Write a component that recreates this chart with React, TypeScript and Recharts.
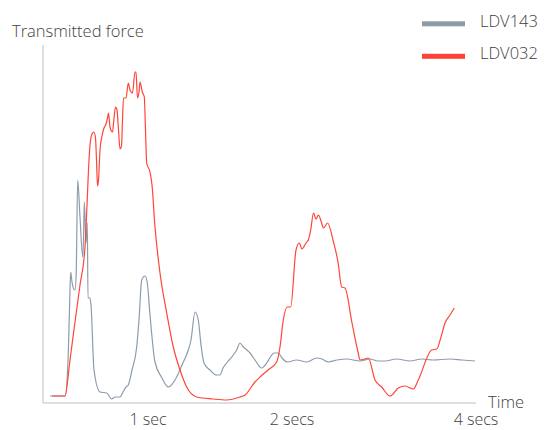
import React from 'react';
import { LineChart, Line, XAxis, YAxis, Legend, Label } from 'recharts';

// Time axis position (arbitrary time units along the axis) and transmitted force (0..358)
const LDV143_TIME = [7, 22, 25.3, 27, 27.7, 29, 30.3, 32, 33.2, 34.7, 37, 39.7, 40.5, 41.3, 43, 44.3, 45, 47, 48, 51, 57, 63.7, 68.7, 72, 77, 80, 83, 85.3, 89, 93.7, 96, 98.7, 102, 104.3, 107, 112, 119, 125.3, 133.7, 139, 145.3, 148, 152, 155.3, 158, 161, 167, 173.7, 177, 180, 183.7, 190.3, 193.7, 197, 200.3, 204, 207, 212, 218.7, 223.7, 228, 231, 235.3, 239, 244.3, 253.7, 263.7, 273.7, 279, 285.3, 294, 303.7, 317, 327, 335, 342, 353.7, 367, 378.7, 390.3, 407, 419, 432];
const LDV143_FORCE = [7, 7, 50, 113, 131, 121, 115, 113, 130, 223, 186, 146, 163, 201, 160, 180, 105, 105, 98, 33, 11, 10, 4, 6, 6, 11, 16, 18, 33, 56, 83, 123, 127, 120, 88, 41, 25, 16, 26, 38, 53, 63, 91, 83, 58, 40, 33, 28, 28, 35, 40, 48, 53, 60, 56, 53, 50, 43, 35, 40, 47, 50, 50, 45, 41, 43, 41, 45, 44, 41, 43, 44, 42, 44, 42, 42, 44, 42, 44, 43, 44, 43, 42];

const LDV032_TIME = [9, 22, 27, 32, 37, 42, 44, 45.5, 47, 49, 51, 52.5, 53.5, 54.5, 55.5, 57, 59, 61, 63, 64.5, 65.5, 67, 69.5, 71, 72.5, 74, 75.5, 77, 78.5, 79.5, 80.5, 83, 85.3, 87, 89.5, 92, 93, 94.5, 96, 97, 99.3, 101.3, 102.5, 103.7, 107, 109, 112, 117, 123.7, 130.3, 137, 143.7, 153.7, 170, 183.7, 197, 202, 212, 217, 225, 233.7, 237, 240.3, 244.3, 247.7, 253, 256.3, 259, 263, 265.3, 267.7, 270.5, 273, 275.5, 278, 280.5, 284.5, 290.5, 295, 298.7, 302, 309, 315, 317, 322, 325.3, 332, 338.7, 347, 355.3, 362, 370.3, 375.3, 388.7, 393.7, 398, 402, 407, 411.3];
const LDV032_FORCE = [7, 7, 43, 81, 118, 156, 198, 233, 258, 269, 271, 265, 243, 217, 223, 253, 267, 275, 279, 285, 290, 276, 271, 285, 296, 293, 273, 254, 257, 283, 305, 305, 320, 313, 310, 331, 331, 305, 311, 321, 311, 306, 273, 240, 231, 218, 176, 130, 90, 56, 33, 16, 6, 4, 3, 6, 8, 21, 26, 33, 41, 56, 83, 96, 96, 153, 160, 154, 160, 163, 173, 190, 184, 188, 182, 175, 180, 161, 141, 116, 115, 80, 51, 43, 44, 45, 23, 16, 7, 15, 17, 14, 23, 53, 54, 66, 80, 88, 95];

const TICK_POSITIONS = [105, 249, 433];
const TICK_LABELS = ['1 sec', '2 secs', '4 secs'];

const SERIES_NAMES = ['LDV143', 'LDV032'];
const SERIES_COLORS = ['#8d9cab', '#ff4538'];
const LEGEND_COLORS = ['#8c9ba8', '#ff4136'];

const ldv143 = LDV143_TIME.map((t, i) => ({ t, force: LDV143_FORCE[i] }));
const ldv032 = LDV032_TIME.map((t, i) => ({ t, force: LDV032_FORCE[i] }));

const FONT = '"Open Sans", sans-serif';
const WEIGHT = 300;
const SIZE = 16.5;
const TICK_SIZE = 16;
const TEXT = '#3f3f3f';

const LegendContent = () => {
  return (
    <svg width={126} height={70} style={{ display: 'block' }}>
      {SERIES_NAMES.map((name, i) => (
        <g key={name}>
          <rect x={0} y={21.3 + i * 32.5} width={43} height={5} fill={LEGEND_COLORS[i]} />
          <text x={58} y={26.8 + i * 32.5} fontSize={SIZE} fontWeight={WEIGHT} fontFamily={FONT} fill={TEXT}>
            {name}
          </text>
        </g>
      ))}
    </svg>
  );
};

export default function App() {
  return (
    <div style={{ position: 'absolute', left: 0, top: 0 }}>
      <LineChart width={548} height={430} margin={{ top: 45, right: 72, bottom: 26, left: 42 }}>
        <XAxis
          type="number"
          dataKey="t"
          domain={[0, 433]}
          ticks={TICK_POSITIONS}
          interval={0}
          tickFormatter={(v: number) => TICK_LABELS[TICK_POSITIONS.indexOf(v)] ?? ''}
          height={1}
          tickLine={false}
          tickSize={0}
          tickMargin={11}
          axisLine={{ stroke: '#d4d4d4', strokeWidth: 1.5 }}
          tick={{ fill: TEXT, fontSize: TICK_SIZE, fontWeight: WEIGHT, fontFamily: FONT }}
          allowDataOverflow
        >
          <Label
            content={(p: any) => {
              const vb = p.viewBox || {};
              return (
                <text x={vb.x + vb.width + 12} y={vb.y + 5} fontSize={SIZE} fontWeight={WEIGHT} fontFamily={FONT} fill={TEXT}>
                  Time
                </text>
              );
            }}
          />
        </XAxis>
        <YAxis
          type="number"
          domain={[0, 358]}
          width={1}
          tick={false}
          tickLine={false}
          axisLine={{ stroke: '#d4d4d4', strokeWidth: 1.5 }}
          allowDataOverflow
        >
          <Label
            content={(p: any) => {
              const vb = p.viewBox || {};
              return (
                <text x={vb.x + vb.width - 31} y={vb.y - 8} fontSize={SIZE} fontWeight={WEIGHT} fontFamily={FONT} fill={TEXT}>
                  Transmitted force
                </text>
              );
            }}
          />
        </YAxis>
        <Legend
          layout="vertical"
          align="center"
          verticalAlign="middle"
          wrapperStyle={{ position: 'absolute', left: 422, top: 0, width: 126, height: 70 }}
          content={<LegendContent />}
        />
        <Line
          data={ldv143}
          dataKey="force"
          name={SERIES_NAMES[0]}
          type="monotone"
          stroke={SERIES_COLORS[0]}
          strokeWidth={1.2}
          dot={false}
          isAnimationActive={false}
        />
        <Line
          data={ldv032}
          dataKey="force"
          name={SERIES_NAMES[1]}
          type="monotone"
          stroke={SERIES_COLORS[1]}
          strokeWidth={1.2}
          dot={false}
          isAnimationActive={false}
        />
      </LineChart>
    </div>
  );
}
